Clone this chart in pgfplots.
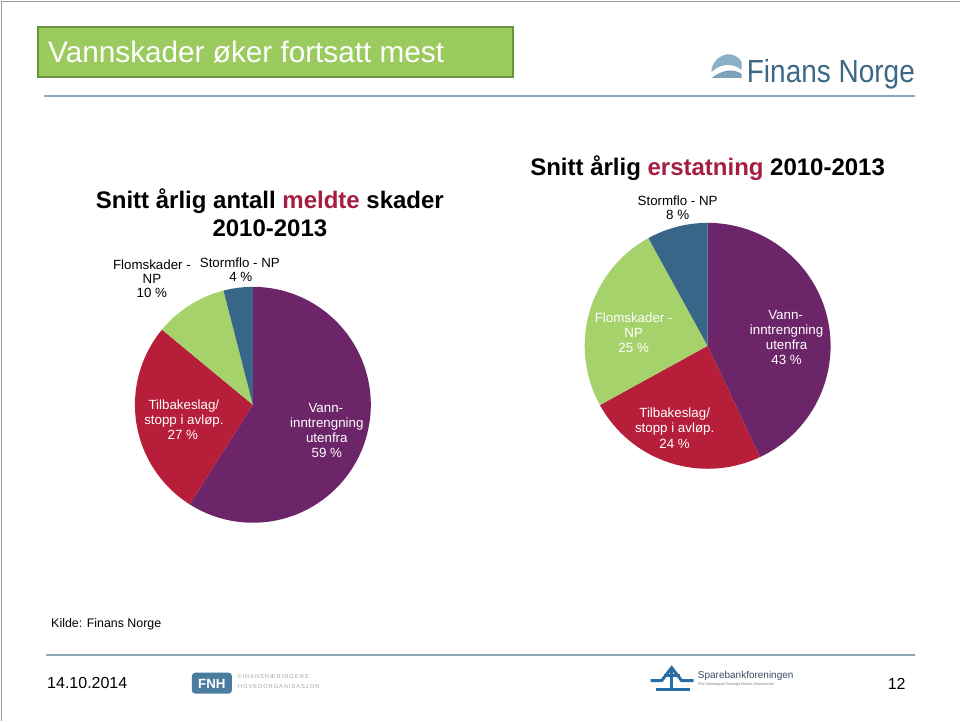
\documentclass[border=0pt]{standalone}
\usepackage{fontspec}
\setmainfont{Liberation Sans}
\usepackage{graphicx}
\usepackage{pgfplots}
\usepackage{pgfplotstable}
\pgfplotsset{compat=1.18}

\definecolor{cVann}{RGB}{108,37,105}
\definecolor{cTilb}{RGB}{183,30,58}
\definecolor{cFlom}{RGB}{166,210,108}
\definecolor{cStorm}{RGB}{56,102,136}
\definecolor{titlered}{RGB}{166,29,66}
\definecolor{boxgreen}{RGB}{155,203,95}
\definecolor{boxedge}{RGB}{105,148,62}
\definecolor{rule}{RGB}{143,168,184}
\definecolor{logoblue}{RGB}{61,105,135}
\definecolor{logolight}{RGB}{140,175,200}

% shares in percent, clockwise from 12 o'clock
\pgfplotstableread{
share colour
59 cVann
27 cTilb
10 cFlom
4  cStorm
}\antall

\pgfplotstableread{
share colour
43 cVann
24 cTilb
25 cFlom
8  cStorm
}\erstatning

% #1 table, #2 radius in px
\newcommand\piewedges[2]{%
  \pgfplotstablegetrowsof{#1}\pgfmathtruncatemacro\nrows{\pgfplotsretval-1}%
  \def\cum{0}%
  \pgfplotsforeachungrouped \r in {0,...,\nrows}{%
    \pgfplotstablegetelem{\r}{share}\of{#1}\let\wshare\pgfplotsretval
    \pgfplotstablegetelem{\r}{colour}\of{#1}\let\wcol\pgfplotsretval
    \pgfmathsetmacro\aA{90-3.6*\cum}%
    \pgfmathsetmacro\aB{90-3.6*(\cum+\wshare)}%
    \pgfmathsetmacro\px{#2*cos(\aA)}%
    \pgfmathsetmacro\py{#2*sin(\aA)}%
    \pgfmathsetmacro\rad{0.75*#2}%
    \edef\tmp{\noexpand\fill[\wcol] (axis cs:0,0) -- (axis cs:\px,\py)
      arc[start angle=\aA, end angle=\aB, radius=\rad pt] -- cycle;}%
    \tmp
    \pgfmathsetmacro\cum{\cum+\wshare}%
  }%
}

\tikzset{
  lab/.style={anchor=base, inner sep=0pt, font=\fontsize{10}{12}\selectfont},
  ctitle/.style={anchor=base, inner sep=0pt, font=\fontsize{18}{21}\selectfont\bfseries},
}

\begin{document}
\begin{tikzpicture}[x=0.75pt, y=-0.75pt]
  % slide
  \fill[white] (0,0) rectangle (960,721);
  \draw[gray!80, line width=0.75pt] (2,721) -- (2,2) -- (960,2);
  \fill[boxgreen, draw=boxedge, line width=1.5pt] (38,27) rectangle (513,77);
  \node[anchor=base west, inner sep=0pt, text=white,
        font=\fontsize{22.3}{26}\selectfont] at (48,63) {Vannskader øker fortsatt mest};
  \draw[rule, line width=1.5pt] (44,96) -- (915,96);
  \draw[rule, line width=1.5pt] (46,655) -- (915,655);

  % Finans Norge logo
  \fill[logolight] (712,68) .. controls (718,52) and (735,50) .. (742,62)
        -- (742,70) .. controls (732,62) and (720,64) .. (712,72) -- cycle;
  \fill[logolight!80!logoblue] (712,78) .. controls (722,70) and (734,68) .. (742,74) -- (742,78) -- cycle;
  \node[anchor=base west, inner sep=0pt, text=logoblue] at (747,83)
        {\scalebox{0.875}[1]{\fontsize{24}{28}\selectfont Finans Norge}};

  % chart titles
  \node[ctitle] at (270,209) {Snitt årlig antall \textcolor{titlered}{meldte} skader};
  \node[ctitle] at (270,237) {2010-2013};
  \node[ctitle] at (708,176) {Snitt årlig \textcolor{titlered}{erstatning} 2010-2013};

  % pie centres
  \coordinate (cL) at (253,405);
  \coordinate (cR) at (708,346);

  % pies
  \begin{axis}[at={(cL)}, anchor=center, hide axis, clip=false,
      x=0.75pt, y=0.75pt, xmin=-125, xmax=125, ymin=-125, ymax=125]
    \piewedges{\antall}{118}
  \end{axis}
  \begin{axis}[at={(cR)}, anchor=center, hide axis, clip=false,
      x=0.75pt, y=0.75pt, xmin=-130, xmax=130, ymin=-130, ymax=130]
    \piewedges{\erstatning}{123}
  \end{axis}

  % left pie labels
  \node[lab] at (152,270) {Flomskader -};
  \node[lab] at (152,284) {NP};
  \node[lab] at (152,298) {10 \%};
  \node[lab] at (240,268) {Stormflo - NP};
  \node[lab] at (241,282) {4 \%};
  \node[lab, text=white] at (184,410) {Tilbakeslag/};
  \node[lab, text=white] at (184,425) {stopp i avløp.};
  \node[lab, text=white] at (183,440) {27 \%};
  \node[lab, text=white] at (326,413) {Vann-};
  \node[lab, text=white] at (327,428) {inntrengning};
  \node[lab, text=white] at (327,443) {utenfra};
  \node[lab, text=white] at (327,458) {59 \%};

  % right pie labels
  \node[lab] at (678,206) {Stormflo - NP};
  \node[lab] at (678,220) {8 \%};
  \node[lab, text=white] at (634,323) {Flomskader -};
  \node[lab, text=white] at (634,338) {NP};
  \node[lab, text=white] at (634,353) {25 \%};
  \node[lab, text=white] at (786,320) {Vann-};
  \node[lab, text=white] at (787,335) {inntrengning};
  \node[lab, text=white] at (787,350) {utenfra};
  \node[lab, text=white] at (787,365) {43 \%};
  \node[lab, text=white] at (675,418) {Tilbakeslag/};
  \node[lab, text=white] at (675,433) {stopp i avløp.};
  \node[lab, text=white] at (675,449) {24 \%};

  % footer
  \node[anchor=base west, inner sep=0pt, font=\fontsize{9.3}{11}\selectfont] at (51,628) {Kilde: Finans Norge};
  \node[anchor=base west, inner sep=0pt, font=\fontsize{12}{14}\selectfont] at (47,689) {14.10.2014};
  \node[anchor=base west, inner sep=0pt, font=\fontsize{12}{14}\selectfont] at (888,690) {12};

  % FNH logo
  \fill[rounded corners=2.5pt, fill={rgb,255:red,74;green,124;blue,160}] (192,673) rectangle (232,694);
  \node[text=white, inner sep=0pt, font=\fontsize{10}{12}\selectfont\bfseries] at (212,684) {FNH};
  \node[anchor=base west, inner sep=0pt, text=gray!70, font=\fontsize{4.3}{5}\selectfont] at (238,679)
        {F\,I\,N\,A\,N\,S\,N\,Æ\,R\,I\,N\,G\,E\,N\,S};
  \node[anchor=base west, inner sep=0pt, text=gray!70, font=\fontsize{4.3}{5}\selectfont] at (238,689)
        {H\,O\,V\,E\,D\,O\,R\,G\,A\,N\,I\,S\,A\,S\,J\,O\,N};

  % Sparebankforeningen logo
  \begin{scope}[draw={rgb,255:red,40;green,110;blue,165}, line width=2.2pt]
    \draw (651,681) -- (662,681) -- (672,668) -- (682,681) -- (694,681);
    \draw (656,690) -- (690,690);
    \draw (672,668) -- (672,690);
    \draw (664,676) -- (680,676);
  \end{scope}
  \node[anchor=base west, inner sep=0pt, text={rgb,255:red,60;green,75;blue,100},
        font=\fontsize{7.5}{9}\selectfont] at (698,679) {Sparebankforeningen};
  \node[anchor=base west, inner sep=0pt, text=gray,
        font=\fontsize{3}{4}\selectfont] at (698,686) {The Norwegian Savings Banks Association};
\end{tikzpicture}
\end{document}
